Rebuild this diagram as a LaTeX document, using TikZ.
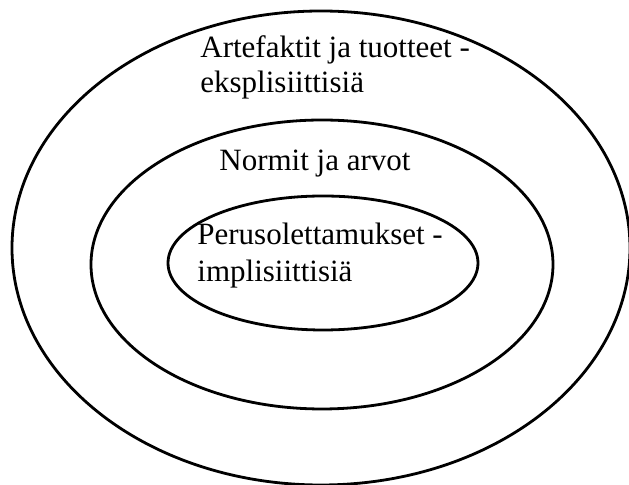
\documentclass[tikz,border=0pt]{standalone}
\usepackage{fontspec}
\setmainfont{Liberation Serif}
\usetikzlibrary{shapes.geometric}

\begin{document}
\begin{tikzpicture}[
  x=0.5pt, y=-0.5pt,
  ring/.style={draw, ellipse, line width=1.4pt, inner sep=0pt},
  label/.style={anchor=base west, align=left, inner sep=0pt,
    font=\fontsize{15.5}{17.5}\selectfont}
]
  \useasboundingbox (0,0) rectangle (629,485);
  \node[ring, minimum width=309pt, minimum height=237pt] (outer) at (321,248) {};
  \node[ring, minimum width=231pt, minimum height=144.5pt] (middle) at (322,264.5) {};
  \node[ring, minimum width=155pt, minimum height=67pt] (inner) at (323,263) {};

  % multi-line labels sit on the baseline of their last line
  \node[label] (artefacts) at (200,93) {Artefaktit ja tuotteet -\\eksplisiittisiä};
  \node[label] (norms) at (219,171) {Normit ja arvot};
  \node[label, font=\fontsize{15.5}{18.5}\selectfont] (assumptions) at (197,282)
    {Perusolettamukset -\\implisiittisiä};
\end{tikzpicture}
\end{document}
